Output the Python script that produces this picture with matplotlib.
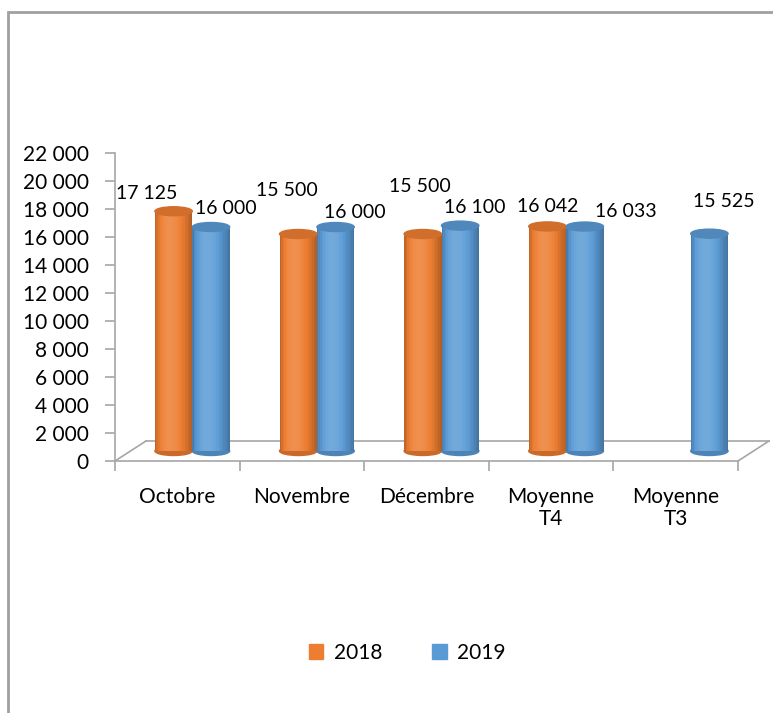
import numpy as np
import matplotlib.pyplot as plt
from matplotlib.patches import Ellipse, Rectangle
from matplotlib.transforms import ScaledTranslation
from matplotlib.ticker import FuncFormatter

# Data
categories = ['Octobre', 'Novembre', 'Décembre', 'Moyenne\nT4', 'Moyenne\nT3']
series_names = ['2018', '2019']
values_2018 = [17125, 15500, 15500, 16042, None]
values_2019 = [16000, 16000, 16100, 16033, 15525]

# Label offsets in pixels (dx, dy up) from the top of each cylinder, like Excel placed them
label_off_2018 = [(-27, 20), (-11, 45), (-3, 50), (0, 22), None]
label_off_2019 = [(15, 20), (19, 17), (15, 20), (41, 17), (14, 34)]

orange = '#ED7D31'
blue = '#5B9BD5'

plt.rcParams['font.family'] = ['Lato', 'DejaVu Sans']

W, H = 773, 713
fig = plt.figure(figsize=(W / 100, H / 100), dpi=100)
ax = fig.add_axes([115 / W, 1 - 461 / H, (738 - 115) / W, (461 - 153) / H])
ax.set_xlim(-0.5, 4.5)
ax.set_ylim(0, 22000)

gray = '#A6A6A6'
for s in ['top', 'right']:
    ax.spines[s].set_visible(False)
ax.spines['left'].set_color(gray)
ax.spines['bottom'].set_color(gray)
ax.spines['left'].set_linewidth(1.2)
ax.spines['bottom'].set_linewidth(1.2)

# y axis
ax.set_yticks(np.arange(0, 22001, 2000))
ax.yaxis.set_major_formatter(FuncFormatter(lambda v, p: f'{int(v):,}'.replace(',', ' ')))
ax.tick_params(axis='y', length=7, color=gray, width=1.2, pad=12, labelsize=15)

# x axis: labels in the slots, ticks at the slot borders
ax.set_xticks(range(len(categories)))
ax.set_xticklabels(categories, linespacing=1.1)
ax.set_xticks(np.arange(-0.5, 5, 1), minor=True)
ax.tick_params(axis='x', which='major', length=0, pad=19, labelsize=15)
ax.tick_params(axis='x', which='minor', length=7, color=gray, width=1.2)

# 3D floor: back edge and side edges
depth = ScaledTranslation(31 / 100, 20 / 100, fig.dpi_scale_trans)
ax.plot([-0.5, 4.5], [0, 0], color=gray, lw=1.2, transform=ax.transData + depth, clip_on=False)
for xe in [-0.5, 4.5]:
    x0, y0 = ax.transData.transform((xe, 0))
    ax.plot([x0, x0 + 31], [y0, y0 + 20], color=gray, lw=1.2,
            transform=None, clip_on=False)

# cylinders, drawn half way into the depth
mid = ScaledTranslation(15 / 100, 10 / 100, fig.dpi_scale_trans)
btrans = ax.transData + mid
bw = 0.30
ell_h = 9 / 308 * 22000


def shade(c, f):
    c = np.array(plt.matplotlib.colors.to_rgb(c))
    if f < 1:
        return tuple(c * f)
    return tuple(c + (1 - c) * (f - 1))


def cylinder(xc, val, color):
    n = 24
    ax.add_patch(Ellipse((xc, 0), bw, ell_h, color=shade(color, 0.85),
                         transform=btrans, zorder=2, clip_on=False))
    for k in range(n):
        t = (k + 0.5) / n
        f = 0.74 + 0.40 * np.sin(np.pi * t ** 0.75)
        ax.bar(xc - bw / 2 + k * bw / n, val, width=bw / n * 1.05, align='edge',
               color=shade(color, f), transform=btrans, zorder=3, lw=0, clip_on=False)
    ax.add_patch(Ellipse((xc, val), bw, ell_h, color=shade(color, 0.88),
                         transform=btrans, zorder=4, clip_on=False))


for i in range(len(categories)):
    for vals, offs, col, dxc in [(values_2018, label_off_2018, orange, -bw / 2),
                                 (values_2019, label_off_2019, blue, bw / 2)]:
        v = vals[i]
        if v is None:
            continue
        cylinder(i + dxc, v, col)
        dx, dy = offs[i]
        ax.annotate(f'{v:,}'.replace(',', ' '), xy=(i + dxc, v), xycoords=btrans,
                    xytext=(dx * 0.72, (dy - 2) * 0.72), textcoords='offset points',
                    ha='center', va='center', fontsize=14, zorder=5)

# legend
h1 = Rectangle((0, 0), 1, 1, color=orange)
h2 = Rectangle((0, 0), 1, 1, color=blue)
fig.legend([h1, h2], series_names, loc='center', bbox_to_anchor=(407 / W, 1 - 653 / H),
           ncol=2, frameon=False, fontsize=15, handlelength=0.7, handleheight=0.7,
           handletextpad=0.5, columnspacing=2.4)

# outer chart frame (cut at right and bottom)
fig.patches.append(Rectangle((8 / W, -0.1), 1.1, 1.1 - 12 / H, fill=False,
                             edgecolor='#A0A0A0', lw=2, transform=fig.transFigure))

fig.savefig('out.png', dpi=100)
